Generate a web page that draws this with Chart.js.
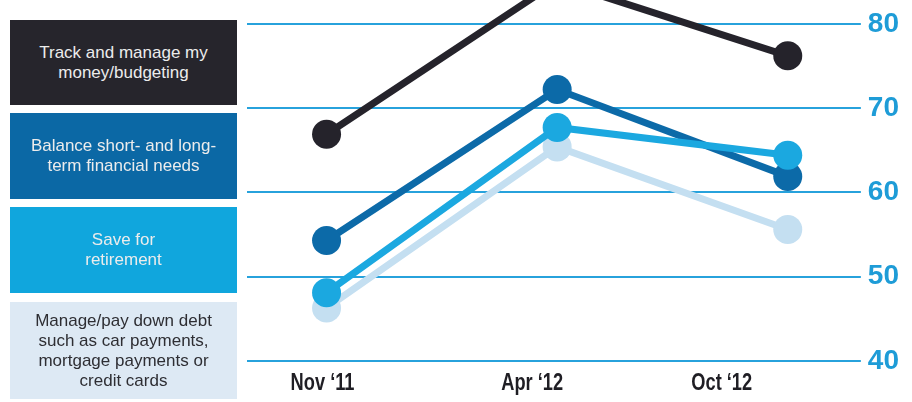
<!DOCTYPE html>
<html>
<head>
<meta charset="utf-8">
<script src="https://cdn.jsdelivr.net/npm/chart.js@4.4.1/dist/chart.umd.min.js"></script>
<style>
  html, body { margin: 0; padding: 0; background: #fff; }
  #wrap { position: relative; width: 912px; height: 402px; overflow: hidden; }
  #chart { position: absolute; left: 0; top: 0; }
  .key {
    position: absolute; left: 10px; width: 227px;
    display: flex; align-items: center; justify-content: center;
    text-align: center; color: #ececec;
    font: 17px/20px "Liberation Sans", Arial, sans-serif;
  }
</style>
</head>
<body>
<div id="wrap">
  <canvas id="chart" width="912" height="402"></canvas>
</div>
<script>
// survey waves
const CATEGORIES = ['Nov \u201811', 'Apr \u201812', 'Oct \u201812'];

// share of respondents naming each goal (%)
const SERIES_NAMES = [
  'Track and manage my<br>money/budgeting',
  'Balance short- and long-<br>term financial needs',
  'Save for<br>retirement',
  'Manage/pay down debt<br>such as car payments,<br>mortgage payments or<br>credit cards'
];
const budgeting  = [66.9, 85.0, 76.2];
const balance    = [54.3, 72.2, 61.9];
const retirement = [48.1, 67.7, 64.4];
const debt       = [46.3, 65.4, 55.6];

const Y_TICKS = [40, 50, 60, 70, 80];

const LINE_COLORS = ['#25232b', '#0c6aa8', '#1ba8e0', '#c4dff1'];
const BOX_COLORS  = ['#26252c', '#0b68a5', '#10a6dd', '#dde9f4'];
const BOX_TOPS    = [20, 113, 207, 302];
const BOX_HEIGHTS = [85, 86, 86, 97];
// month labels sit a little left of their points
const LABEL_NUDGE = [-4, -25, -66];

// key boxes on the left
const wrap = document.getElementById('wrap');
SERIES_NAMES.forEach((name, i) => {
  const box = document.createElement('div');
  box.className = 'key';
  box.style.top = BOX_TOPS[i] + 'px';
  box.style.height = BOX_HEIGHTS[i] + 'px';
  box.style.background = BOX_COLORS[i];
  if (i === 3) box.style.color = '#2e2e33';
  box.innerHTML = name;
  wrap.appendChild(box);
});

// condensed bold month names under the plot
const monthLabels = {
  id: 'monthLabels',
  afterDraw(chart) {
    const { ctx, scales: { x } } = chart;
    const squeeze = 0.76;
    ctx.save();
    ctx.font = 'bold 24px "Liberation Sans", Arial, sans-serif';
    ctx.fillStyle = '#1f1e24';
    ctx.textAlign = 'center';
    ctx.textBaseline = 'alphabetic';
    CATEGORIES.forEach((c, i) => {
      const cx = x.getPixelForValue(i) + LABEL_NUDGE[i];
      ctx.save();
      ctx.translate(cx, 390);
      ctx.scale(squeeze, 1);
      ctx.fillText(c, 0, 0);
      ctx.restore();
    });
    ctx.restore();
  }
};

function series(data, i, order) {
  return {
    data: data.map((v, k) => ({ x: k, y: v })),
    borderColor: LINE_COLORS[i],
    backgroundColor: LINE_COLORS[i],
    pointBackgroundColor: LINE_COLORS[i],
    borderWidth: 7,
    pointRadius: 14.5,
    pointBorderWidth: 0,
    tension: 0,
    clip: false,
    order
  };
}

new Chart(document.getElementById('chart'), {
  type: 'line',
  data: {
    datasets: [
      series(budgeting, 0, 1),
      series(balance, 1, 3),
      series(retirement, 2, 2),
      series(debt, 3, 4)
    ]
  },
  options: {
    responsive: false,
    animation: false,
    layout: { padding: { left: 247, right: 6, top: 21, bottom: 41 } },
    plugins: { legend: { display: false }, tooltip: { enabled: false } },
    scales: {
      x: { type: 'linear', display: false, min: -0.345, max: 2.265 },
      y: {
        position: 'right',
        min: Y_TICKS[0],
        max: Y_TICKS[Y_TICKS.length - 1],
        afterBuildTicks: axis => { axis.ticks = Y_TICKS.map(v => ({ value: v })); },
        ticks: {
          padding: 7,
          color: '#1e9cd7',
          font: { family: '"Liberation Sans", Arial, sans-serif', weight: 'bold', size: 28 }
        },
        grid: { color: '#27a2dc', lineWidth: 2, tickLength: 12, drawTicks: true },
        border: { display: false }
      }
    }
  },
  plugins: [monthLabels]
});
</script>
</body>
</html>
